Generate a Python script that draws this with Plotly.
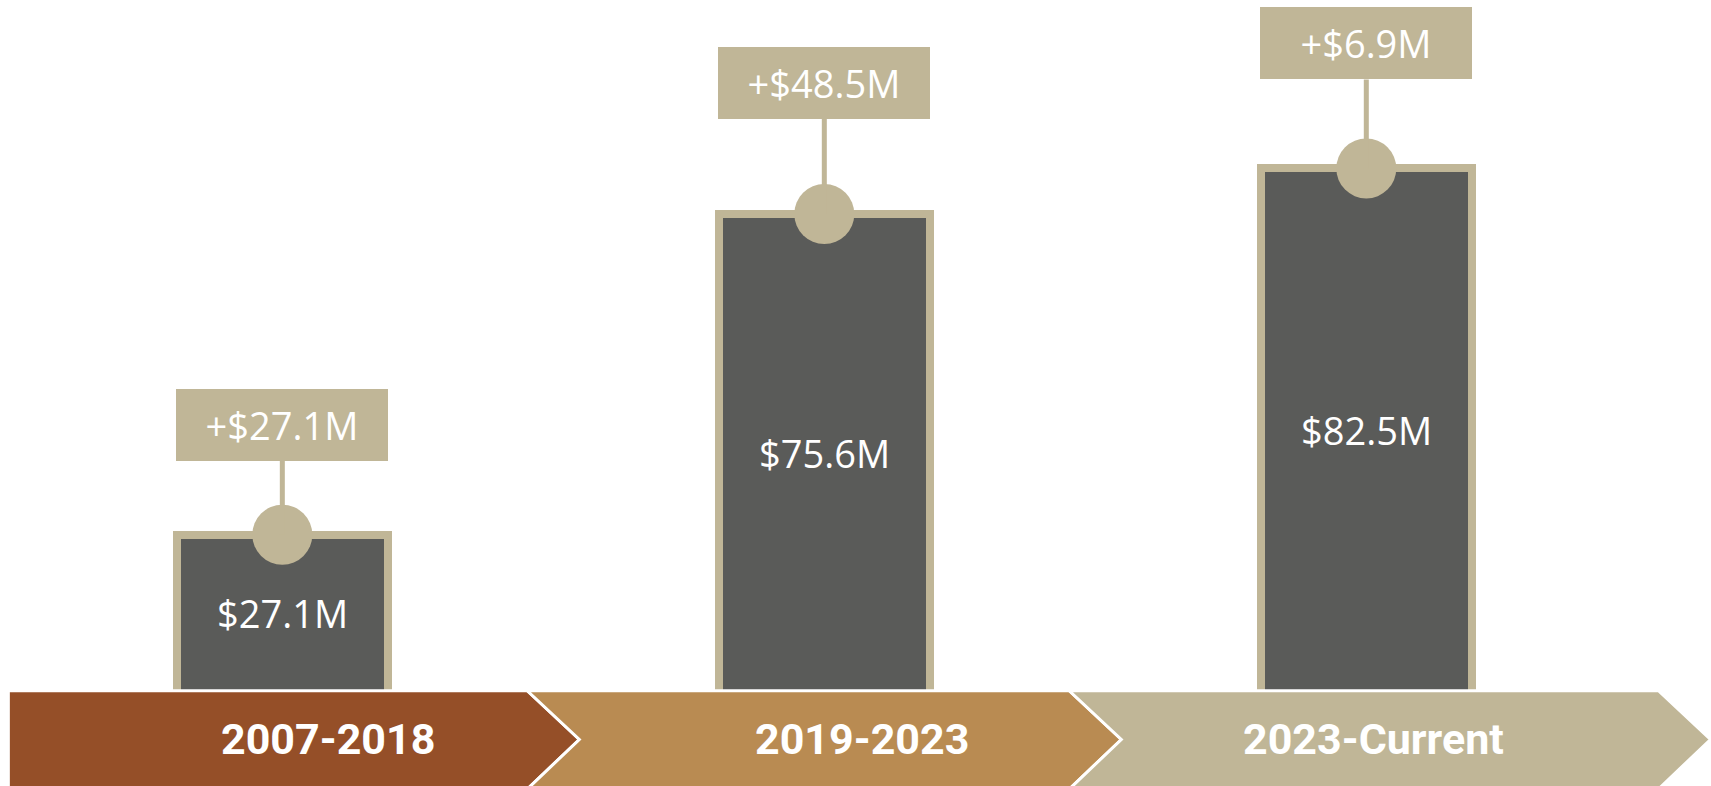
import plotly.graph_objects as go

# %% data
periods = ["2007-2018", "2019-2023", "2023-Current"]
totals = [27.1, 75.6, 82.5]      # cumulative, $M
increases = [27.1, 48.5, 6.9]    # added during the period, $M

# %% styling
BAR_FILL = "#5A5B59"
KHAKI = "#C0B697"
BAND_COLORS = ["#954F28", "#B98B52", "#C0B697"]

W, H = 1711, 786
X_RANGE = [-0.5209, 2.636]
Y_RANGE = [-10.9, 107.97]
BAR_WIDTH = 0.389
NOTCH = 0.048                     # half depth of the chevron point (x units)
BAND_LEFT, BAND_RIGHT = -0.5055, 2.587
BAND_TOP, BAND_MID, BAND_BOT = 0.1212, 0.0592, -0.004   # paper y
callout_lift = [110, 131, 125]    # px from bar top to callout box centre
label_nudge = [46, 38, 7]         # px shift of band text

x_pos = list(range(len(periods)))

fig = go.Figure()

fig.add_trace(go.Bar(x=x_pos, y=totals, width=BAR_WIDTH,
                     marker=dict(color=BAR_FILL, line=dict(color=KHAKI, width=8)),
                     hoverinfo="skip"))

# knob on top of each bar
fig.add_trace(go.Scatter(x=x_pos, y=totals, mode="markers",
                         marker=dict(size=60, color=KHAKI, line=dict(width=0)),
                         hoverinfo="skip"))

# bar value labels
for i, v in enumerate(totals):
    fig.add_annotation(x=i, y=v / 2, yshift=11, text=f"${v}M", showarrow=False,
                       xanchor="center", yanchor="middle",
                       font=dict(family="Open Sans", size=38, color="#FFFFFF"))

# callout boxes with the increase
for i, (v, inc) in enumerate(zip(totals, increases)):
    fig.add_annotation(x=i, y=v, ax=0, ay=-callout_lift[i], text=f"+${inc}M",
                       showarrow=True, arrowhead=0, arrowwidth=5, arrowcolor=KHAKI,
                       standoff=0, width=212, height=72, borderpad=0, borderwidth=0,
                       bgcolor=KHAKI, valign="middle",
                       font=dict(family="Open Sans", size=38, color="#FFFFFF"))

# chevron band along the bottom
shapes = []
for i, col in enumerate(BAND_COLORS):
    left = BAND_LEFT if i == 0 else i - 0.5
    right = BAND_RIGHT if i == len(periods) - 1 else i + 0.5
    if i == 0:
        path = (f"M {left},{BAND_TOP} L {right - NOTCH},{BAND_TOP} L {right + NOTCH},{BAND_MID} "
                f"L {right - NOTCH},{BAND_BOT} L {left},{BAND_BOT} Z")
    else:
        path = (f"M {left - NOTCH},{BAND_TOP} L {right - NOTCH},{BAND_TOP} L {right + NOTCH},{BAND_MID} "
                f"L {right - NOTCH},{BAND_BOT} L {left - NOTCH},{BAND_BOT} L {left + NOTCH},{BAND_MID} Z")
    shapes.append(dict(type="path", path=path, xref="x", yref="paper", layer="above",
                       fillcolor=col, line=dict(color="#FFFFFF", width=3)))

for i, name in enumerate(periods):
    fig.add_annotation(x=i, y=BAND_MID, yref="paper", xshift=label_nudge[i], text=f"<b>{name}</b>",
                       showarrow=False, xanchor="center", yanchor="middle",
                       font=dict(family="Roboto", size=43, color="#FFFFFF"))

fig.update_layout(width=W, height=H, margin=dict(l=0, r=0, t=0, b=0),
                  paper_bgcolor="#FFFFFF", plot_bgcolor="#FFFFFF",
                  showlegend=False, shapes=shapes, bargap=0)
fig.update_xaxes(range=X_RANGE, visible=False, fixedrange=True)
fig.update_yaxes(range=Y_RANGE, visible=False, fixedrange=True)

# page body has a default margin; drop it so the figure sits at the window corner
fig.write_html("out.html", config={"displayModeBar": False},
               post_script="document.body.style.margin='0';")
